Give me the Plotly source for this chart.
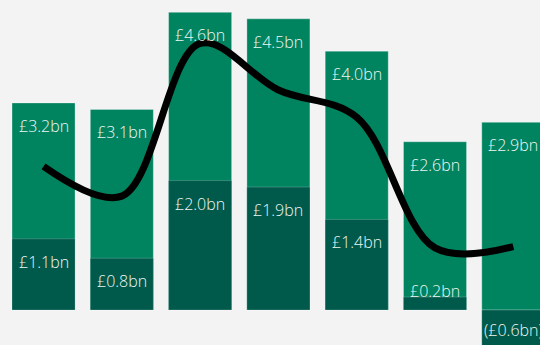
import plotly.graph_objects as go

# Periods shown left to right (axis is hidden)
periods = ["P1", "P2", "P3", "P4", "P5", "P6", "P7"]
# Total value per period (£bn) - lighter bars
totals = [3.2, 3.1, 4.6, 4.5, 4.0, 2.6, 2.9]
# Component value per period (£bn) - darker bars overlaid from zero
components = [1.1, 0.8, 2.0, 1.9, 1.4, 0.2, -0.6]
# Smoothed trend line values (£bn)
trend = [2.22, 1.76, 4.12, 3.40, 2.98, 0.96, 0.98]

LIGHT = "#00835f"
DARK = "#005a4b"
BG = "#f3f3f3"
TEXT = "#eef6f3"
FONT = "'Open Sans', Lato, sans-serif"


def fmt(v):
    s = "£%.1fbn" % abs(v)
    return "(%s)" % s if v < 0 else s


x_idx = list(range(len(periods)))

fig = go.Figure()
fig.add_trace(go.Bar(
    x=x_idx, y=totals, width=0.805,
    marker=dict(color=LIGHT, line=dict(color="rgba(255,255,255,0.3)", width=1)),
    hoverinfo="skip", showlegend=False,
))
fig.add_trace(go.Bar(
    x=x_idx, y=components, width=0.805,
    marker=dict(color=DARK, line=dict(color="rgba(255,255,255,0.2)", width=1)),
    hoverinfo="skip", showlegend=False,
))
fig.add_trace(go.Scatter(
    x=x_idx, y=trend, mode="lines",
    line=dict(color="#000000", width=7, shape="spline", smoothing=1.0),
    hoverinfo="skip", showlegend=False,
))

annotations = []
for i, v in enumerate(totals):
    annotations.append(dict(x=i, y=v, yshift=-23, text=fmt(v), showarrow=False,
                            xanchor="center", yanchor="middle"))
for i, v in enumerate(components):
    if v >= 0.5:
        y, shift = v, -23
    elif v >= 0:
        y, shift = 0, 19
    else:
        y, shift = 0, -20
    annotations.append(dict(x=i, y=y, yshift=shift, text=fmt(v), showarrow=False,
                            xanchor="center", yanchor="middle"))

fig.update_layout(
    width=540, height=345,
    margin=dict(l=0, r=0, t=0, b=0),
    paper_bgcolor=BG, plot_bgcolor=BG,
    barmode="overlay",
    font=dict(family=FONT, size=16, color=TEXT, weight=300),
    xaxis=dict(range=[-0.556, 6.341], visible=False, fixedrange=True),
    yaxis=dict(range=[-0.541, 4.791], visible=False, fixedrange=True),
    annotations=annotations,
)

fig.write_html("out.html")
